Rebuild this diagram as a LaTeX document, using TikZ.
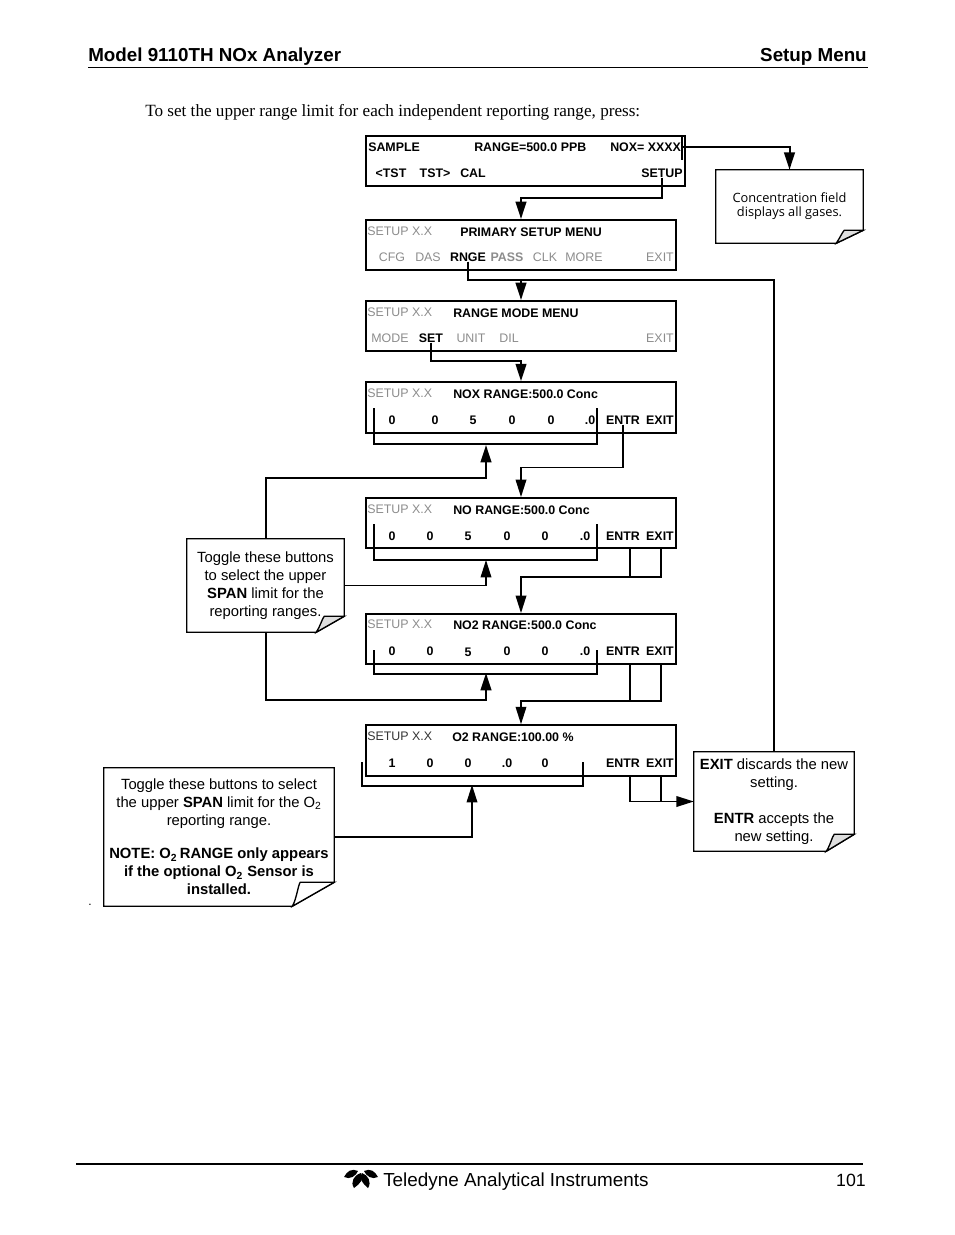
\documentclass[tikz,border=0pt]{standalone}
\usepackage{fontspec}
\setmainfont{Liberation Sans}
\newfontfamily\timesfont{Liberation Serif}
\newfontfamily\tahomafont{Open Sans}
\usetikzlibrary{calc}
\usetikzlibrary{arrows.meta}

\definecolor{menugray}{gray}{0.55}
\definecolor{foldgray}{gray}{0.87}

\newcommand{\notefold}[4]{
  \draw[noteline] (#1.north west) -- (#1.north east) -- ($(#1.south east)+(0,-#3)$)
    -- ($(#1.south east)+(-#2,0)$) -- (#1.south west) -- cycle;
  \draw[noteline, fill=#4] ($(#1.south east)+(-#2,0)$) .. controls ($(#1.south east)+(-#2+4,-6)$) and ($(#1.south east)+(-#2+6,-#3+2)$)
    .. ($(#1.south east)+(-#2+8,-#3)$) -- ($(#1.south east)+(0,-#3)$) -- cycle;
}

\begin{document}
\begin{tikzpicture}[
    x = .75pt,
    y = -.75pt,
    panel/.style = {
      rectangle,
      draw=black,
      line width=1.5pt,
      minimum width=232.5pt,
      minimum height=37.5pt,
      inner sep=0pt
    },
    dark/.style = {
      font=\fontsize{9.3}{11}\selectfont\bfseries,
      inner sep=0pt
    },
    menu/.style = {
      font=\fontsize{9.3}{11}\selectfont,
      text=menugray,
      inner sep=0pt
    },
    note/.style = {
      rectangle,
      align=center,
      inner sep=0pt,
      font=\fontsize{11.1}{13.5}\selectfont
    },
    flow/.style = {
      line width=1.5pt,
      line join=miter
    },
    thin flow/.style = {
      line width=1pt
    },
    tip/.style = {
      -{Triangle[width=8pt,length=13pt]}
    },
    noteline/.style = {
      draw=black,
      line width=1pt,
      line join=miter
    }
  ]
    \useasboundingbox (0,0) rectangle (954,1235);

    % page furniture
    \node[anchor=base west, inner sep=0pt, font=\fontsize{14.1}{16}\selectfont\bfseries] (headleft) at (88,61) {Model 9110TH NOx Analyzer};
    \node[anchor=base east, inner sep=0pt, font=\fontsize{14.1}{16}\selectfont\bfseries] (headright) at (867,61) {Setup Menu};
    \draw[line width=.8pt] (88,67.5) -- (868,67.5);
    \node[anchor=base west, inner sep=0pt, font=\fontsize{12.86}{15}\selectfont\timesfont] (intro) at (145,116) {To set the upper range limit for each independent reporting range, press:};
    \node[inner sep=0pt, font=\fontsize{9}{10}\selectfont] (dot) at (90,905) {.};
    \draw[line width=1.5pt] (76,1164) -- (863,1164);
    \node[anchor=base west, inner sep=0pt, font=\fontsize{14.15}{16}\selectfont] (foottext) at (383,1186) {Teledyne Analytical Instruments};
    \node[anchor=base east, inner sep=0pt, font=\fontsize{13.3}{16}\selectfont] (pagenum) at (866,1186) {101};
    \fill (344,1177) .. controls (347,1171) and (352,1168) .. (358,1171) .. controls (356,1176) and (350,1180) .. cycle;
    \fill (361,1173) .. controls (365,1178) and (360,1184) .. (354,1188) .. controls (350,1182) and (354,1175) .. cycle;
    \fill (362,1173) .. controls (358,1178) and (363,1184) .. (368,1188) .. controls (372,1182) and (368,1175) .. cycle;
    \fill (378,1177) .. controls (375,1171) and (370,1168) .. (364,1171) .. controls (366,1176) and (372,1180) .. cycle;

    % panels
    \node[panel, minimum width=239.25pt] (p1) at (525.5,161) {};
    \node[panel] (p2) at (521,245) {};
    \node[panel] (p3) at (521,326) {};
    \node[panel, minimum height=38pt] (p4) at (521,407.5) {};
    \node[panel] (p5) at (521,523) {};
    \node[panel] (p6) at (521,639) {};
    \node[panel, minimum height=38pt] (p7) at (521,750.5) {};

    % panel 1
    \node[dark, anchor=west] (p1a) at (368,147) {SAMPLE};
    \node[dark, anchor=west] (p1b) at (474,147) {RANGE=500.0 PPB};
    \node[dark, anchor=west] (p1c) at (610,147) {NOX= XXXX};
    \node[dark] (p1d) at (391,173) {<TST};
    \node[dark] (p1e) at (435,173) {TST>};
    \node[dark] (p1f) at (473,173) {CAL};
    \node[dark] (p1setup) at (662,173) {SETUP};

    % panel 2
    \node[menu, anchor=west] (p2a) at (367,231) {SETUP X.X};
    \node[dark, anchor=west] (p2b) at (460,232) {PRIMARY SETUP MENU};
    \node[menu] (p2c) at (392,257) {CFG};
    \node[menu] (p2d) at (428,257) {DAS};
    \node[dark] (p2rnge) at (468,257) {RNGE};
    \node[menu, font=\fontsize{9.3}{11}\selectfont\bfseries] (p2e) at (507,257) {PASS};
    \node[menu] (p2f) at (545,257) {CLK};
    \node[menu] (p2g) at (584,257) {MORE};
    \node[menu] (p2h) at (660,257) {EXIT};

    % panel 3
    \node[menu, anchor=west] (p3a) at (367,312) {SETUP X.X};
    \node[dark, anchor=west] (p3b) at (453,313) {RANGE MODE MENU};
    \node[menu] (p3c) at (390,338) {MODE};
    \node[dark] (p3set) at (431,338) {SET};
    \node[menu] (p3d) at (471,338) {UNIT};
    \node[menu] (p3e) at (509,338) {DIL};
    \node[menu] (p3f) at (660,338) {EXIT};

    % panel 4
    \node[menu, anchor=west] (p4a) at (367,393) {SETUP X.X};
    \node[dark, anchor=west] (p4b) at (453,394) {NOX RANGE:500.0 Conc};
    \foreach \name/\px/\txt in {c/392/0, d/435/0, e/473/5, f/512/0, g/551/0, h/590/.0}
      \node[dark] (p4\name) at (\px,420) {\txt};
    \node[dark] (p4entr) at (623,420) {ENTR};
    \node[dark] (p4exit) at (660,420) {EXIT};

    % panel 5
    \node[menu, anchor=west] (p5a) at (367,509) {SETUP X.X};
    \node[dark, anchor=west] (p5b) at (453,510) {NO RANGE:500.0 Conc};
    \foreach \name/\px/\txt in {c/392/0, d/430/0, e/468/5, f/507/0, g/545/0, h/585/.0}
      \node[dark] (p5\name) at (\px,536) {\txt};
    \node[dark] (p5entr) at (623,536) {ENTR};
    \node[dark] (p5exit) at (660,536) {EXIT};

    % panel 6
    \node[menu, anchor=west] (p6a) at (367,624) {SETUP X.X};
    \node[dark, anchor=west] (p6b) at (453,625) {NO2 RANGE:500.0 Conc};
    \foreach \name/\px/\py/\txt in {c/392/651/0, d/430/651/0, e/468/652/5, f/507/651/0, g/545/651/0, h/585/651/.0}
      \node[dark] (p6\name) at (\px,\py) {\txt};
    \node[dark] (p6entr) at (623,651) {ENTR};
    \node[dark] (p6exit) at (660,651) {EXIT};

    % panel 7
    \node[menu, anchor=west, text=black!80] (p7a) at (367,736) {SETUP X.X};
    \node[dark, anchor=west] (p7b) at (452,737) {O2 RANGE:100.00 \%};
    \foreach \name/\px/\txt in {c/392/1, d/430/0, e/468/0, f/507/.0, g/545/0}
      \node[dark] (p7\name) at (\px,763) {\txt};
    \node[dark] (p7entr) at (623,763) {ENTR};
    \node[dark] (p7exit) at (660,763) {EXIT};

    % notes
    \node[note, minimum width=110.25pt, minimum height=54.75pt, font=\fontsize{9.6}{10.5}\selectfont\tahomafont] (n1) at (789.5,206.5)
      {Concentration field\\displays all gases.};
    \node[note, minimum width=117.75pt, minimum height=69.75pt] (n2) at (265.5,585.5)
      {Toggle these buttons\\to select the upper\\\textbf{SPAN} limit for the\\reporting ranges.};
    \node[note, minimum width=172.5pt, minimum height=103.5pt] (n3) at (219,837)
      {Toggle these buttons to select\\the upper \textbf{SPAN} limit for the O\textsubscript{2}\\reporting range.\\[11.5pt]
       \textbf{NOTE: O\textsubscript{2}\,RANGE only appears}\\\textbf{if the optional O\textsubscript{2} Sensor is}\\\textbf{installed.}};
    \node[note, minimum width=120pt, minimum height=74.25pt] (n4) at (774,801.5)
      {\textbf{EXIT} discards the new\\setting.\\[13.5pt]\textbf{ENTR} accepts the\\new setting.};
    \notefold{n1}{27}{13}{foldgray}
    \notefold{n2}{28}{16}{foldgray}
    \notefold{n3}{42}{24}{white}
    \notefold{n4}{28}{17}{foldgray}

    % brackets under the digits
    \coordinate (b4l) at (374,408);
    \coordinate (b4r) at (597,408);
    \coordinate (b4m) at (486,445);
    \coordinate (b5l) at (374,524);
    \coordinate (b5r) at (597,524);
    \coordinate (b5m) at (486,560);
    \coordinate (b6l) at (374,650);
    \coordinate (b6r) at (597,650);
    \coordinate (b6m) at (486,673);
    \coordinate (b7l) at (362,762);
    \coordinate (b7r) at (583,762);
    \coordinate (b7m) at (472,785);
    \draw[flow] (b4l) -- ++(0,36) -| (b4r);
    \draw[flow] (b5l) -- ++(0,36) -| (b5r);
    \draw[flow] (b6l) -- ++(0,24) -| (b6r);
    \draw[flow] (b7l) -- ++(0,24) -| (b7r);

    % drop points under ENTR and EXIT
    \coordinate (p5entrout) at (630,548);
    \coordinate (p5exitout) at (661,548);
    \coordinate (p6entrout) at (630,664);
    \coordinate (p6exitout) at (661,664);
    \coordinate (p7entrout) at (630,776);
    \coordinate (p7exitout) at (661,776);

    % cursor bar and first note
    \coordinate (p1bar) at (682,137);
    \coordinate (p1out) at (682,147);
    \draw[flow] (p1bar) -- ++(0,23);
    \draw[flow, tip] (p1out) -| (n1.north);

    % menu flow
    \draw[flow, tip] (p1setup.south) -- ++(0,20) -| (p2.north);
    \draw[flow] (p2rnge.south) -- ++(0,18) -| (n4.north);
    \draw[flow, tip] (p2rnge.south) -- ++(0,18) -| (p3.north);
    \draw[flow, tip] (p3set.south) -- ++(0,18) -| (p4.north);
    \draw[thin flow, tip] (p4entr.south) -- ++(0,43) -| (p5.north);
    \draw[thin flow, tip] (p5entrout) -- ++(0,29) -| (p6.north);
    \draw[thin flow] (p5exitout) -- ++(0,29) -- ++(-31,0);
    \draw[thin flow, tip] (p6entrout) -- ++(0,37) -| (p7.north);
    \draw[thin flow] (p6exitout) -- ++(0,37) -- ++(-31,0);
    \draw[thin flow] (p7exitout) -- ++(0,26);
    \draw[thin flow, tip] (p7entrout) |- (n4.west);

    % toggle notes into the brackets
    \draw[flow, tip] (n2.north) |- ($(b4m)+(-100,33)$) -| (b4m);
    \draw[thin flow, tip] (n2.east) -| (b5m);
    \draw[flow, tip] (n2.south) |- ($(b6m)+(-100,27)$) -| (b6m);
    \draw[thin flow, tip] (n3.east) -| (b7m);
\end{tikzpicture}
\end{document}
